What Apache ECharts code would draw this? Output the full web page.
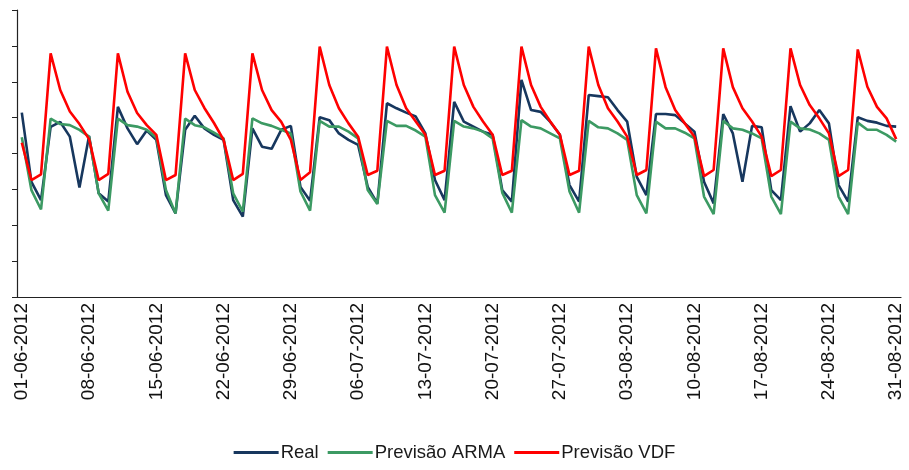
<!DOCTYPE html>
<html>
<head>
<meta charset="utf-8">
<title>Real vs Previsão</title>
<script src="https://cdn.jsdelivr.net/npm/echarts@6.0.0/dist/echarts.min.js"></script>
<style>
  html, body { margin: 0; padding: 0; background: #ffffff; }
  #chart { width: 909px; height: 470px; }
</style>
</head>
<body>
<div id="chart"></div>
<script>
// Daily series, 01-06-2012 .. 31-08-2012
const startDate = '2012-06-01';
const endDate = '2012-08-31';

const real = [
  514, 321, 270, 474, 488, 447, 305, 449, 289, 266,
  530, 470, 426, 464, 438, 284, 233, 466, 505, 470,
  452, 438, 270, 224, 470, 419, 413, 466, 477, 307,
  268, 501, 493, 456, 438, 424, 307, 261, 540, 526,
  514, 503, 456, 326, 270, 544, 489, 475, 461, 452,
  298, 266, 605, 521, 516, 488, 452, 312, 266, 563,
  560, 557, 521, 489, 335, 284, 510, 510, 507, 484,
  461, 321, 261, 510, 456, 321, 477, 473, 298, 270,
  532, 461, 484, 521, 484, 312, 266, 501, 491, 486,
  477, 475
];

const arma = [
  445, 298, 244, 497, 482, 479, 466, 447, 289, 241,
  497, 479, 475, 466, 445, 298, 233, 497, 479, 473,
  458, 442, 289, 238, 498, 484, 477, 466, 456, 294,
  241, 491, 475, 475, 461, 442, 298, 259, 491, 477,
  477, 464, 447, 284, 235, 491, 475, 470, 461, 442,
  291, 235, 493, 475, 470, 456, 442, 294, 235, 491,
  473, 470, 456, 438, 284, 233, 489, 470, 470, 458,
  442, 280, 231, 491, 470, 466, 456, 442, 280, 231,
  489, 470, 467, 456, 438, 280, 231, 486, 466, 466,
  452, 433
];

const vdf = [
  430, 326, 342, 679, 577, 517, 482, 440, 326, 343,
  679, 572, 513, 479, 452, 326, 340, 679, 577, 527,
  485, 438, 326, 343, 679, 577, 521, 488, 438, 326,
  348, 698, 591, 526, 484, 447, 340, 352, 698, 591,
  526, 489, 452, 340, 352, 698, 591, 530, 489, 452,
  340, 352, 698, 591, 530, 489, 452, 340, 352, 698,
  591, 526, 489, 447, 340, 354, 693, 585, 521, 484,
  447, 337, 354, 693, 585, 526, 489, 447, 337, 354,
  693, 591, 535, 498, 456, 337, 354, 690, 586, 530,
  498, 440
];

const seriesNames = ['Real', 'Previsão ARMA', 'Previsão VDF'];
const seriesColors = ['#17375e', '#3c9a63', '#ff0000'];

// dd-mm-yyyy labels for every day in the range
function dayLabels(from, to) {
  const out = [];
  const d = new Date(from + 'T00:00:00Z');
  const last = new Date(to + 'T00:00:00Z');
  while (d <= last) {
    const dd = String(d.getUTCDate()).padStart(2, '0');
    const mm = String(d.getUTCMonth() + 1).padStart(2, '0');
    out.push(dd + '-' + mm + '-' + d.getUTCFullYear());
    d.setUTCDate(d.getUTCDate() + 1);
  }
  return out;
}
const days = dayLabels(startDate, endDate);

const chart = echarts.init(document.getElementById('chart'), null, { renderer: 'canvas' });

const font = '"Liberation Sans", Arial, sans-serif';

chart.setOption({
  animation: false,
  backgroundColor: '#ffffff',
  textStyle: { fontFamily: font },
  grid: { left: 17, right: 8, top: 10, bottom: 173, containLabel: false },
  legend: {
    data: seriesNames,
    bottom: 3,
    left: 'center',
    icon: 'rect',
    itemWidth: 45,
    itemHeight: 3,
    itemGap: 9,
    textStyle: { fontSize: 18.5, color: '#1a1a1a', fontFamily: font, padding: [0, 0, 0, -3] }
  },
  xAxis: {
    type: 'category',
    data: days,
    boundaryGap: true,
    axisLine: { lineStyle: { color: '#222', width: 1.2 } },
    axisTick: { interval: 6, length: 5, lineStyle: { color: '#222' } },
    axisLabel: {
      interval: 6,
      rotate: 90,
      margin: 6,
      fontSize: 19,
      color: '#111',
      fontFamily: font
    },
    splitLine: { show: false }
  },
  yAxis: {
    type: 'value',
    min: 0,
    max: 800,
    interval: 100,
    axisLine: { show: true, lineStyle: { color: '#222', width: 1.2 } },
    axisTick: { show: true, length: 5, lineStyle: { color: '#222' } },
    axisLabel: { show: false },
    splitLine: { show: false }
  },
  series: [real, arma, vdf].map((values, k) => ({
    name: seriesNames[k],
    type: 'line',
    data: values,
    symbol: 'none',
    smooth: false,
    color: seriesColors[k],
    lineStyle: { width: 2.6, color: seriesColors[k] }
  }))
});
</script>
</body>
</html>
